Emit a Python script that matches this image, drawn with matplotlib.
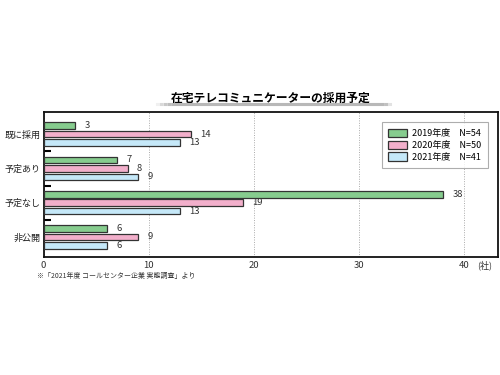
import numpy as np
import matplotlib.pyplot as plt
from matplotlib.patches import Patch

plt.rcParams['font.family'] = ['Noto Sans CJK JP', 'DejaVu Sans']

categories = ['既に採用', '予定あり', '予定なし', '非公開']
series_names = ['2019年度　N=54', '2020年度　N=50', '2021年度　N=41']
v2019 = [3, 7, 38, 6]
v2020 = [14, 8, 19, 9]
v2021 = [13, 9, 13, 6]
colors = ['#86cc8e', '#f2afcb', '#c5e8f8']
xticks = [0, 10, 20, 30, 40]

title = '在宅テレコミュニケーターの採用予定'
note = '※「2021年度 コールセンター企業 実態調査」より'

fig = plt.figure(figsize=(5, 3.75), dpi=100)
ax = fig.add_axes([0.087, 0.315, 0.908, 0.386])

y = np.arange(len(categories))
step = 0.245
h = 0.19
for i, vals in enumerate([v2019, v2020, v2021]):
    pos = y + (i - 1) * step
    ax.barh(pos, vals, height=h, color=colors[i], edgecolor='#333333', linewidth=0.9, zorder=3)
    for p, v in zip(pos, vals):
        ax.text(v + 0.9, p, str(v), va='center', ha='left', fontsize=6.8, color='#333333')

ax.set_xlim(0, 43.2)
ax.set_ylim(3.58, -0.64)
ax.set_xticks(xticks)
ax.set_xticklabels([str(t) for t in xticks], fontsize=6.8, color='#333333')
ax.set_yticks(y)
ax.set_yticklabels(categories, fontsize=6.5, color='#222222')
ax.tick_params(axis='both', length=0, pad=3)
ax.tick_params(axis='y', pad=2)
ax.set_yticks([0.5, 1.5, 2.5], minor=True)
ax.tick_params(axis='y', which='minor', direction='in', length=5, width=1.5, color='black')
ax.grid(axis='x', linestyle=(0, (1, 1.5)), color='#aaaaaa', linewidth=0.7, zorder=0)
for s in ax.spines.values():
    s.set_linewidth(1.3)
    s.set_color('#111111')

fig.text(0.97, 0.293, '(社)', fontsize=6.5, color='#333333', ha='center', va='center')

handles = [Patch(facecolor=c, edgecolor='#333333', linewidth=0.9) for c in colors]
leg = ax.legend(handles, series_names, loc='upper right', fontsize=6.5, frameon=True,
                fancybox=False, edgecolor='#999999', bbox_to_anchor=(0.988, 0.96),
                handlelength=2.0, handleheight=1.0, borderpad=0.7, labelspacing=0.3,
                handletextpad=0.6)
leg.get_frame().set_linewidth(0.8)

fig.text(0.542, 0.738, title, ha='center', va='center', fontsize=8.5, fontweight='bold')
xs = np.linspace(0.306, 0.78, 60)
alpha = np.clip(np.minimum((xs - 0.306) / 0.04, (0.78 - xs) / 0.02), 0, 1)
for k in range(len(xs) - 1):
    fig.add_artist(plt.Line2D([xs[k], xs[k + 1]], [0.722, 0.722], color='#b8b8b8',
                              linewidth=2.2, alpha=float(alpha[k]), transform=fig.transFigure))

fig.text(0.074, 0.263, note, ha='left', va='center', fontsize=5.0, color='#333333')

fig.savefig('out.png', dpi=100)
